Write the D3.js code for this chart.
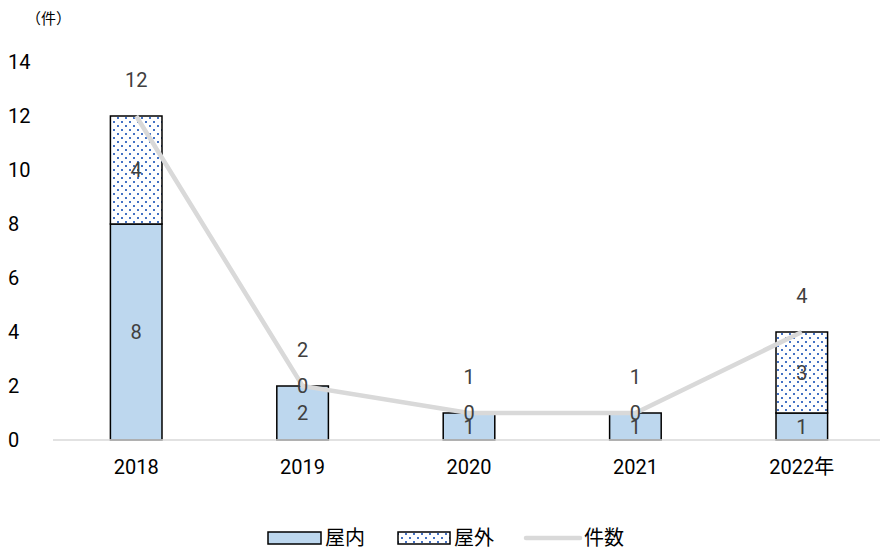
<!DOCTYPE html>
<html>
<head>
<meta charset="utf-8">
<script src="https://cdn.jsdelivr.net/npm/d3@7"></script>
<style>
  body { margin: 0; background: #fff; }
  svg { font-family: Roboto, "Noto Sans CJK JP", sans-serif; }
</style>
</head>
<body>
<svg id="chart" width="880" height="552"></svg>
<script>
const years = ["2018", "2019", "2020", "2021", "2022年"];
const indoor = [8, 2, 1, 1, 1];
const outdoor = [4, 0, 0, 0, 3];
const totals = [12, 2, 1, 1, 4];
const yTicks = [0, 2, 4, 6, 8, 10, 12, 14];

const svg = d3.select("#chart");

// motif pointillé pour "屋外"
const defs = svg.append("defs");
const pat = defs.append("pattern")
  .attr("id", "dots")
  .attr("patternUnits", "userSpaceOnUse")
  .attr("width", 8).attr("height", 8);
pat.append("rect").attr("width", 8).attr("height", 8).attr("fill", "#fff");
pat.append("rect").attr("x", 1).attr("y", 1).attr("width", 2).attr("height", 2).attr("fill", "#4472c4");
pat.append("rect").attr("x", 5).attr("y", 5).attr("width", 2).attr("height", 2).attr("fill", "#4472c4");

const x = d3.scaleBand().domain(years).range([53, 885]).paddingInner(0.69).paddingOuter(0.345);
const y = d3.scaleLinear().domain([0, 14]).range([440, 62]);

// axe Y (labels seulement)
svg.append("g").selectAll("text")
  .data(yTicks)
  .join("text")
  .attr("x", 8)
  .attr("y", d => y(d))
  .attr("dy", "0.35em")
  .attr("font-size", 20)
  .attr("fill", "#000")
  .text(d => d);

svg.append("text")
  .attr("x", 26).attr("y", 24)
  .attr("font-size", 15)
  .text("（件）");

// barres empilées
const g = svg.append("g");
years.forEach((yr, i) => {
  const bx = x(yr), bw = x.bandwidth();
  g.append("rect")
    .attr("x", bx).attr("y", y(indoor[i]))
    .attr("width", bw).attr("height", y(0) - y(indoor[i]))
    .attr("fill", "#bdd7ee").attr("stroke", "#000").attr("stroke-width", 1.5);
  if (outdoor[i] > 0) {
    g.append("rect")
      .attr("x", bx).attr("y", y(indoor[i] + outdoor[i]))
      .attr("width", bw).attr("height", y(indoor[i]) - y(indoor[i] + outdoor[i]))
      .attr("fill", "url(#dots)").attr("stroke", "#000").attr("stroke-width", 1.5);
  }
});

// axe X
svg.append("line")
  .attr("x1", 53).attr("x2", 880)
  .attr("y1", y(0)).attr("y2", y(0))
  .attr("stroke", "#d9d9d9").attr("stroke-width", 1.5);

svg.append("g").selectAll("text")
  .data(years)
  .join("text")
  .attr("x", d => x(d) + x.bandwidth() / 2)
  .attr("y", 474)
  .attr("text-anchor", "middle")
  .attr("font-size", 20)
  .text(d => d);

// ligne 件数
const line = d3.line()
  .x((d, i) => x(years[i]) + x.bandwidth() / 2)
  .y(d => y(d));
svg.append("path")
  .datum(totals)
  .attr("d", line)
  .attr("fill", "none")
  .attr("stroke", "#d9d9d9")
  .attr("stroke-width", 4.5);

// étiquettes
const lab = svg.append("g").attr("font-size", 20).attr("fill", "#404040").attr("text-anchor", "middle");
years.forEach((yr, i) => {
  const cx = x(yr) + x.bandwidth() / 2;
  lab.append("text").attr("x", cx).attr("y", y((indoor[i]) / 2)).attr("dy", "0.35em").text(indoor[i]);
  lab.append("text").attr("x", cx).attr("y", y(indoor[i] + outdoor[i] / 2)).attr("dy", "0.35em").text(outdoor[i]);
  lab.append("text").attr("x", cx).attr("y", y(totals[i]) - 36).attr("dy", "0.35em").text(totals[i]);
});

// légende
const leg = svg.append("g").attr("font-size", 20);
leg.append("rect").attr("x", 268).attr("y", 532).attr("width", 53).attr("height", 12)
  .attr("fill", "#bdd7ee").attr("stroke", "#000").attr("stroke-width", 1.5);
leg.append("text").attr("x", 325).attr("y", 545).text("屋内");
leg.append("rect").attr("x", 398).attr("y", 532).attr("width", 52).attr("height", 12)
  .attr("fill", "url(#dots)").attr("stroke", "#000").attr("stroke-width", 1.5);
leg.append("text").attr("x", 454).attr("y", 545).text("屋外");
leg.append("line").attr("x1", 526).attr("x2", 580).attr("y1", 538).attr("y2", 538)
  .attr("stroke", "#d9d9d9").attr("stroke-width", 4.5).attr("stroke-linecap", "round");
leg.append("text").attr("x", 584).attr("y", 545).text("件数");
</script>
</body>
</html>
